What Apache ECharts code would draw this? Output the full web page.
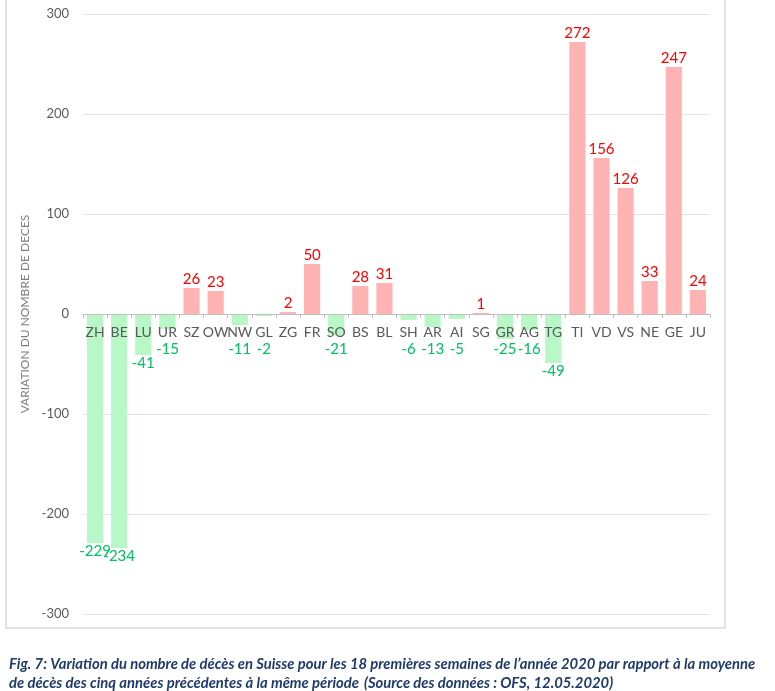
<!DOCTYPE html>
<html>
<head>
<meta charset="utf-8">
<script src="https://cdn.jsdelivr.net/npm/echarts@6/dist/echarts.min.js"></script>
<style>
html,body{margin:0;padding:0;background:#fff}
#chart{width:775px;height:691px}
</style>
</head>
<body>
<div id="chart"></div>
<script>
var cantons = ['ZH','BE','LU','UR','SZ','OW','NW','GL','ZG','FR','SO','BS','BL','SH','AR','AI','SG','GR','AG','TG','TI','VD','VS','NE','GE','JU'];
var variation = [-229,-234,-41,-15,26,23,-11,-2,2,50,-21,28,31,-6,-13,-5,1,-25,-16,-49,272,156,126,33,247,24];
var yTicks = [-300,-200,-100,0,100,200,300];

var pink = '#FFB3B3', green = '#B7F8C6';
var red = '#FF0000', greenTxt = '#00C060';
var font = 'Lato, "Open Sans", sans-serif';

var chart = echarts.init(document.getElementById('chart'));

var option = {
    animation: false,
    graphic: [{
        type: 'rect',
        shape: {x: 6, y: -5, width: 719, height: 633},
        style: {fill: 'none', stroke: '#d9d9d9', lineWidth: 1.5},
        z: -1
    }],
    title: {
        left: 4,
        top: 650,
        itemGap: 0,
        text: '{b|Fig. 7: Variation du nombre de décès en Suisse pour les 18 premières semaines de l\u2019année 2020 par rapport à la moyenne}\n{b|de décès des cinq années précédentes à la même période} {n|(Source des données : OFS, 12.05.2020)}',
        textStyle: {
            rich: {
                b: {fontFamily: font, fontSize: 14.8, fontWeight: 'bold', fontStyle: 'italic', color: '#1F3B6B', lineHeight: 19},
                n: {fontFamily: font, fontSize: 14.8, fontStyle: 'italic', color: '#1F3B6B', lineHeight: 19}
            }
        }
    },
    grid: {left: 83, right: 65, top: 14, bottom: 77},
    xAxis: {
        type: 'category',
        data: cantons,
        z: 10,
        offset: -300,
        axisLine: {onZero: false, lineStyle: {color: '#bfbfbf', width: 1}},
        axisTick: {show: true, length: 4, lineStyle: {color: '#bfbfbf'}},
        axisLabel: {color: '#595959', fontSize: 14, fontFamily: font, margin: 11, interval: 0}
    },
    yAxis: {
        type: 'value',
        min: yTicks[0],
        max: yTicks[yTicks.length - 1],
        interval: 100,
        name: 'VARIATION DU NOMBRE DE DECES',
        nameLocation: 'middle',
        nameGap: 37,
        nameTextStyle: {color: '#7f7f7f', fontSize: 12, fontFamily: font},
        axisLine: {show: false},
        axisTick: {show: false},
        axisLabel: {color: '#595959', fontSize: 13, fontFamily: font, margin: 14},
        splitLine: {lineStyle: {color: '#e4e4e4', width: 1}}
    },
    series: [{
        type: 'bar',
        barCategoryGap: '33%',
        data: variation.map(function (v) {
            return {
                value: v,
                itemStyle: {color: v >= 0 ? pink : green},
                label: {position: v >= 0 ? 'top' : 'bottom', color: v >= 0 ? red : greenTxt}
            };
        }),
        label: {show: true, fontSize: 15, fontFamily: font, distance: 1},
        // push small negative labels below the canton names
        labelLayout: function (p) {
            if (variation[p.dataIndex] < 0 && p.labelRect.y < 342) {
                return {dy: 342 - p.labelRect.y};
            }
        }
    }]
};

chart.setOption(option);
</script>
</body>
</html>
